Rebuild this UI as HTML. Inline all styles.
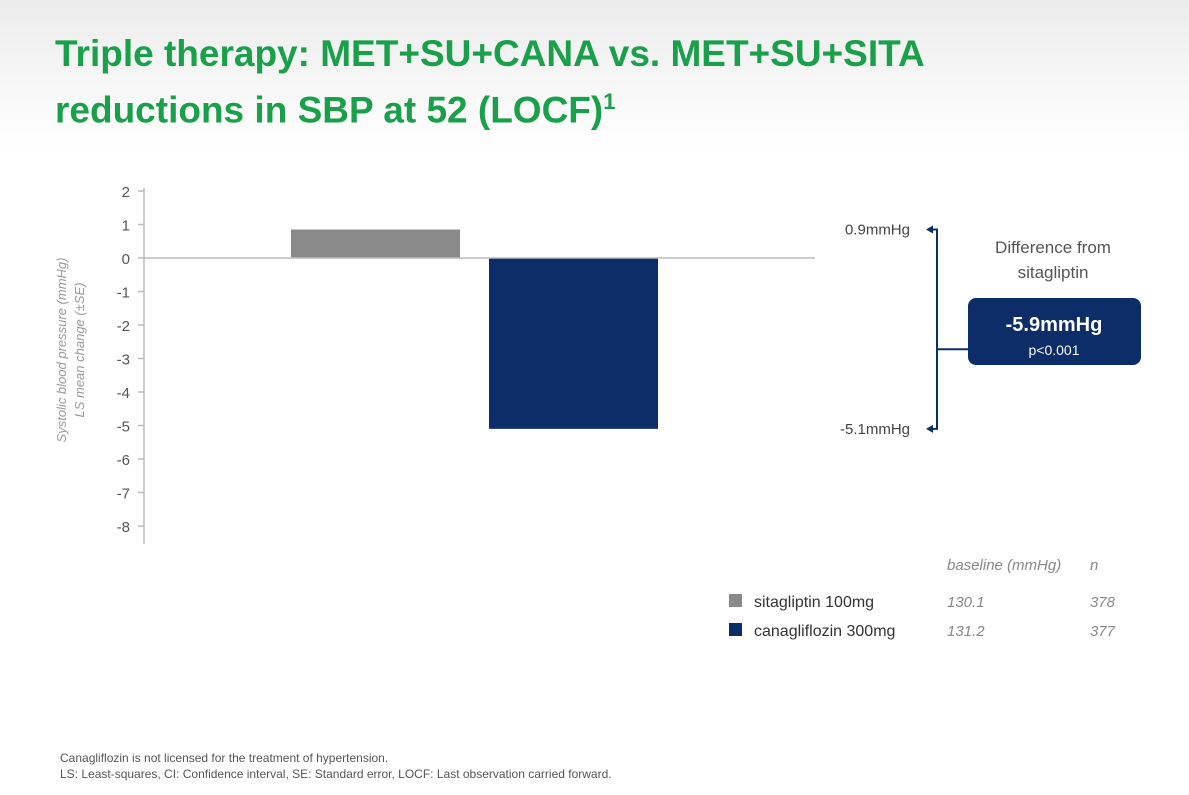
<!DOCTYPE html>
<html><head><meta charset="utf-8"><style>
body{margin:0;width:1189px;height:795px;overflow:hidden;font-family:"Liberation Sans",sans-serif;background:linear-gradient(#ececec 0px,#ffffff 150px);position:relative}
.t{position:absolute;left:55px;top:30px;font-size:37px;line-height:48px;color:#1aa04a;margin:0}
.foot{position:absolute;left:60px;top:750px;font-size:12px;color:#555;line-height:16px}
svg{position:absolute;left:0;top:0}
</style></head><body>
<h1 class="t">Triple therapy: MET+SU+CANA vs. MET+SU+SITA<br>reductions in SBP at 52 (LOCF)<sup style="font-size:22px">1</sup></h1>
<svg id="chart" width="1189" height="795"></svg>
<div class="foot">Canagliflozin is not licensed for the treatment of hypertension.<br>LS: Least-squares, CI: Confidence interval, SE: Standard error, LOCF: Last observation carried forward.</div>
<script>
const categories=["sitagliptin 100mg","canagliflozin 300mg"];
const values=[0.85,-5.1];
const baselines=["130.1","131.2"];
const ns=["378","377"];
const colors=["#8a8a8a","#0d2d69"];
const ticks=[2,1,0,-1,-2,-3,-4,-5,-6,-7,-8];
const diffLabel="-5.9mmHg";
const NS="http://www.w3.org/2000/svg";
const svg=document.getElementById('chart');
function y(v){return 258-v*33.5;}
function mk(t,a,txt){const e=document.createElementNS(NS,t);for(const k in a)e.setAttribute(k,a[k]);if(txt!==undefined)e.textContent=txt;svg.appendChild(e);return e;}
const ax=mk('line',{x1:144,y1:188,x2:144,y2:544,stroke:'#bbb','stroke-width':1.5});

ticks.forEach(t=>{
 const l=mk('line',{x1:138,y1:y(t),x2:144,y2:y(t),stroke:'#bbb','stroke-width':1.5});
 
 const tx=mk('text',{x:130,y:y(t)+6,'text-anchor':'end','font-size':15,fill:'#555'},String(t));
 
});
const yt=mk('text',{transform:'translate(66,350) rotate(-90)','text-anchor':'middle','font-size':13,fill:'#999','font-style':'italic'});

yt.innerHTML='<tspan x="0" dy="0">Systolic blood pressure (mmHg)</tspan><tspan x="0" dy="18">LS mean change (±SE)</tspan>';
const xs=[291,489];
values.forEach((v,i)=>{
 const top=Math.min(y(v),y(0)),h=Math.abs(y(v)-y(0));
 const r=mk('rect',{x:xs[i],y:top,width:169,height:h,fill:colors[i]});
 
});
const zl=mk('line',{x1:144,y1:y(0),x2:815,y2:y(0),stroke:'#bbb','stroke-width':1.5});

// bracket
const navy='#0d2d69';
const b1=y(values[0]),b2=y(values[1]);
const br=mk('path',{d:`M930 ${b1} H937 V${b2} H930 M937 ${(b1+b2)/2+20} H968`,stroke:navy,'stroke-width':2,fill:'none'});

[b1,b2].forEach(b=>{const a=mk('path',{d:`M926 ${b} L933 ${b-4} L933 ${b+4}Z`,fill:navy});});
const l1=mk('text',{x:910,y:b1+5,'text-anchor':'end','font-size':15,fill:'#444'},values[0].toFixed(1).replace('0.85','0.9')+'mmHg');
l1.textContent=(Math.round(values[0]*10)/10).toFixed(1)+'mmHg';

const l2=mk('text',{x:910,y:b2+5,'text-anchor':'end','font-size':15,fill:'#444'},values[1].toFixed(1)+'mmHg');

const dh=mk('text',{x:1053,y:253,'text-anchor':'middle','font-size':17,fill:'#555'},'Difference from');

const dh2=mk('text',{x:1053,y:278,'text-anchor':'middle','font-size':17,fill:'#555'},'sitagliptin');

const bx=mk('rect',{x:968,y:298,width:173,height:67,rx:8,fill:navy});

const bt=mk('text',{x:1054,y:331,'text-anchor':'middle','font-size':20,'font-weight':'bold',fill:'#fff'},diffLabel);

const bp=mk('text',{x:1054,y:355,'text-anchor':'middle','font-size':14,fill:'#fff'},'p<0.001');

// legend
const lh=mk('text',{x:947,y:570,'font-size':15,fill:'#888','font-style':'italic'},'baseline (mmHg)');

const lh2=mk('text',{x:1090,y:570,'font-size':15,fill:'#888','font-style':'italic'},'n');

categories.forEach((c,i)=>{
 const yy=601+i*29;
 const s=mk('rect',{x:729,y:yy-7,width:13,height:13,fill:colors[i]});
 
 const t=mk('text',{x:754,y:yy+6,'font-size':16,fill:'#333'},c);
 
 const b=mk('text',{x:947,y:yy+6,'font-size':15,fill:'#888','font-style':'italic'},baselines[i]);
 
 const n=mk('text',{x:1115,y:yy+6,'text-anchor':'end','font-size':15,fill:'#888','font-style':'italic'},ns[i]);
 
});
</script>
</body></html>
